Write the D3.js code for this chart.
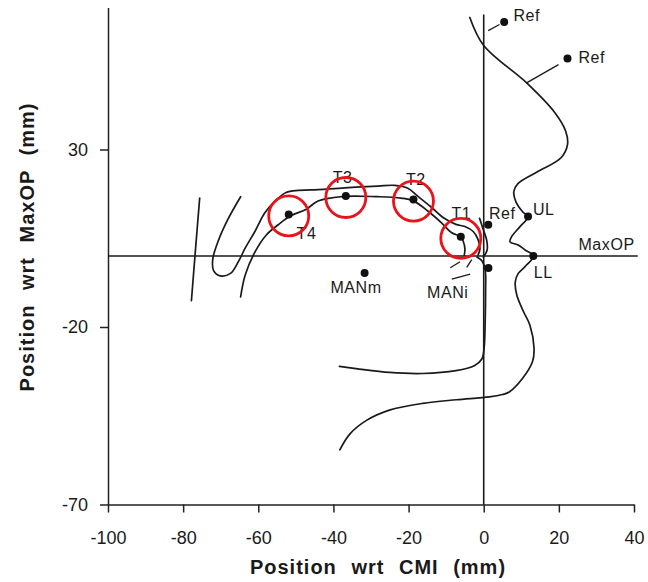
<!DOCTYPE html>
<html>
<head>
<meta charset="utf-8">
<script src="https://cdn.jsdelivr.net/npm/d3@7"></script>
<style>
  body { margin: 0; background: #fff; }
  svg text { font-family: "Liberation Sans", Arial, Helvetica, sans-serif; fill: #1a1a1a; }
</style>
</head>
<body>
<svg id="chart"></svg>
<script>
// tick values
const xTicks = [-100, -80, -60, -40, -20, 0, 20, 40];
const yTicks = [-70, -20, 30];

// traced outlines, [x mm wrt CMI, y mm wrt MaxOP]
const faceProfile = [
  [-3.7, 67.2], [0, 59.3], [11.5, 48.7], [18.7, 40.7], [21.8, 35.2], [22.3, 31.4],
  [20.5, 27.6], [14.4, 23.8], [9.1, 20.4], [8.0, 18.1], [8.6, 15.2], [10.4, 12.4],
  [11.8, 11.1], [9.6, 8.2], [7.4, 5.4], [7.0, 4.0], [9.2, 3.1], [11.0, 1.7],
  [13.2, 0], [11.0, -3.0], [9.2, -4.9], [8.4, -7.3], [8.8, -11], [10.6, -15.7],
  [12.3, -19.5], [13.4, -26], [13.0, -29.7], [10.3, -34.5], [6.8, -38.3], [5.0, -39],
  [1.5, -39.7], [-7.3, -40.5], [-16.2, -41.5], [-25.1, -43.4], [-31.2, -46.3],
  [-35.6, -50.1], [-38.3, -54.6]
];
const tongueUpper = [
  [-64.7, 16.7], [-68.0, 10.5], [-70.6, 4.4], [-72.1, -0.8], [-71.9, -4.1], [-70.1, -5.6],
  [-67.4, -4.9], [-65.3, -1.6], [-63.5, 2.2], [-60.9, 6.9], [-58.3, 12.1], [-55.6, 15.4],
  [-52.6, 17.9], [-49.4, 18.5], [-45.9, 18.6], [-37.0, 19.2], [-28.2, 19.7], [-23.7, 19.9],
  [-20.2, 19.1], [-17.5, 16.8], [-14.0, 13.8], [-10.6, 10.7], [-7.4, 8.9], [-5.0, 8.3],
  [-2.8, 6.9], [-1.5, 4.6], [-1.0, 2.0], [-1.5, 0.3]
];
const tongueLower = [
  [-64.7, -11.5], [-63.5, -5.4], [-60.8, 1.3], [-57.8, 6.0], [-54.7, 8.8], [-51.6, 11.2],
  [-47.2, 13.2], [-44.1, 15.5], [-37.0, 16.8], [-28.2, 16.7], [-22.0, 16.3], [-18.8, 15.6],
  [-14.8, 12.6], [-11.3, 9.4], [-8.6, 6.6], [-6.1, 5.4], [-5.5, 4.3], [-5.0, 2.0], [-5.2, 0.1]
];
const mandible = [
  [-38.4, -31.1], [-34, -31.7], [-25.1, -32.8], [-16.3, -33.1], [-7.4, -32.3], [-2.5, -30.9],
  [-0.5, -29], [0.1, -26], [0.4, -18], [0.5, -10], [0.4, -4], [-0.4, -1.5], [-1.8, -0.3]
];
const upperIncisor = [[-1.1, 10.6], [-0.2, 7.7], [0.8, 4.4], [0.9, 1.6], [-0.1, -0.3]];
const backLine = [[-75.6, 16.3], [-76.7, 2.0], [-77.8, -12.6]];
const curves = [faceProfile, tongueUpper, tongueLower, mandible, upperIncisor, backLine];

// short strokes and leader lines
const strokes = [
  [[1.2, 63.5], [4.2, 65.2]],
  [[11.3, 48.7], [19.9, 53.9]],
  [[-8.5, -6.5], [-3.6, -5.1]],
  [[-8.9, -3.3], [-6.3, -1.6]],
  [[-4.5, -3.2], [-3.2, -1.0]]
];

// marked points
const pointNames = ["T1", "T2", "T3", "T4", "Ref", "Ref", "Ref", "UL", "LL", "MANm", ""];
const pointX = [-6.1, -18.7, -36.7, -51.9, 5.45, 22.3, 1.2, 11.8, 13.2, -31.7, 1.25];
const pointY = [5.4, 15.9, 16.9, 11.7, 65.9, 55.6, 8.8, 11.1, 0, -4.8, -3.4];
const circled = ["T1", "T2", "T3", "T4"];

// labels: text, anchor x, baseline y (data units)
const labelText = ["Ref", "Ref", "Ref", "UL", "LL", "MaxOP", "T1", "T2", "T3", "T4", "MANm", "MANi"];
const labelX = [7.9, 25.2, 1.4, 13.1, 13.3, 25.2, -8.6, -20.7, -40.2, -49.8, -40.8, -15.1];
const labelY = [66.1, 54.5, 10.5, 11.5, -6.3, 1.7, 10.4, 20.1, 20.5, 4.7, -10.3, -11.8];

const width = 648, height = 582;

const svg = d3.select("#chart")
  .attr("width", width)
  .attr("height", height);

const x = d3.scaleLinear().domain([-100, 40]).range([108, 634]);
const y = d3.scaleLinear().domain([-70, 70]).range([504.5, 7.5]);

// axes (plain hyphen minus like the original)
const xAxis = d3.axisBottom(x).tickValues(xTicks).tickSize(8).tickPadding(19).tickSizeOuter(0)
  .tickFormat((d) => String(d));
const yAxis = d3.axisLeft(y).tickValues(yTicks).tickSize(8).tickPadding(12).tickSizeOuter(0)
  .tickFormat((d) => String(d));

const gx = svg.append("g").attr("transform", "translate(0," + y(-70) + ")").call(xAxis);
const gy = svg.append("g").attr("transform", "translate(" + x(-100) + ",0)").call(yAxis);

[gx, gy].forEach((g) => {
  g.selectAll("path, line").attr("stroke", "#222").attr("stroke-width", 1.5);
  g.selectAll("text")
    .attr("fill", "#222")
    .style("font-size", "18px")
    .style("font-family", "'Liberation Sans', Arial, sans-serif");
});

// reference lines: CMI vertical and MaxOP horizontal
svg.append("line")
  .attr("x1", x(0)).attr("x2", x(0))
  .attr("y1", y(-70)).attr("y2", y(68))
  .attr("stroke", "#1a1a1a").attr("stroke-width", 1.6);

svg.append("line")
  .attr("x1", x(-100)).attr("x2", x(41))
  .attr("y1", y(0)).attr("y2", y(0))
  .attr("stroke", "#1a1a1a").attr("stroke-width", 1.6);

// outlines
const line = d3.line()
  .x((d) => x(d[0]))
  .y((d) => y(d[1]))
  .curve(d3.curveCatmullRom.alpha(0.5));

svg.selectAll(".outline")
  .data(curves)
  .enter()
  .append("path")
  .attr("class", "outline")
  .attr("d", line)
  .attr("fill", "none")
  .attr("stroke", "#1a1a1a")
  .attr("stroke-width", 1.7)
  .attr("stroke-linejoin", "round")
  .attr("stroke-linecap", "round");

svg.selectAll(".stroke")
  .data(strokes)
  .enter()
  .append("path")
  .attr("class", "stroke")
  .attr("d", d3.line().x((d) => x(d[0])).y((d) => y(d[1])))
  .attr("stroke", "#1a1a1a")
  .attr("stroke-width", 1.3);

// points
const points = pointNames.map((n, i) => ({ name: n, x: pointX[i], y: pointY[i] }));

svg.selectAll(".pt")
  .data(points)
  .enter()
  .append("circle")
  .attr("class", "pt")
  .attr("cx", (d) => x(d.x))
  .attr("cy", (d) => y(d.y))
  .attr("r", 4)
  .attr("fill", "#111");

// labels
svg.selectAll(".lbl")
  .data(labelText)
  .enter()
  .append("text")
  .attr("class", "lbl")
  .attr("x", (d, i) => x(labelX[i]))
  .attr("y", (d, i) => y(labelY[i]))
  .style("font-size", "16px")
  .style("letter-spacing", "0.6px")
  .text((d) => d);

// red highlight rings on T points
svg.selectAll(".ring")
  .data(points.filter((d) => circled.includes(d.name)))
  .enter()
  .append("circle")
  .attr("class", "ring")
  .attr("cx", (d) => x(d.x))
  .attr("cy", (d) => y(d.y) + 1.5)
  .attr("r", 20)
  .attr("fill", "none")
  .attr("stroke", "#e8141c")
  .attr("stroke-width", 2.8);

// axis titles
svg.append("text")
  .attr("x", 378)
  .attr("y", 574)
  .attr("text-anchor", "middle")
  .style("font-size", "20px")
  .style("font-weight", "bold")
  .style("letter-spacing", "1px")
  .style("word-spacing", "8px")
  .text("Position wrt CMI (mm)");

svg.append("text")
  .attr("transform", "translate(34,247) rotate(-90)")
  .attr("text-anchor", "middle")
  .style("font-size", "20px")
  .style("font-weight", "bold")
  .style("letter-spacing", "1px")
  .style("word-spacing", "8px")
  .text("Position wrt MaxOP (mm)");
</script>
</body>
</html>
